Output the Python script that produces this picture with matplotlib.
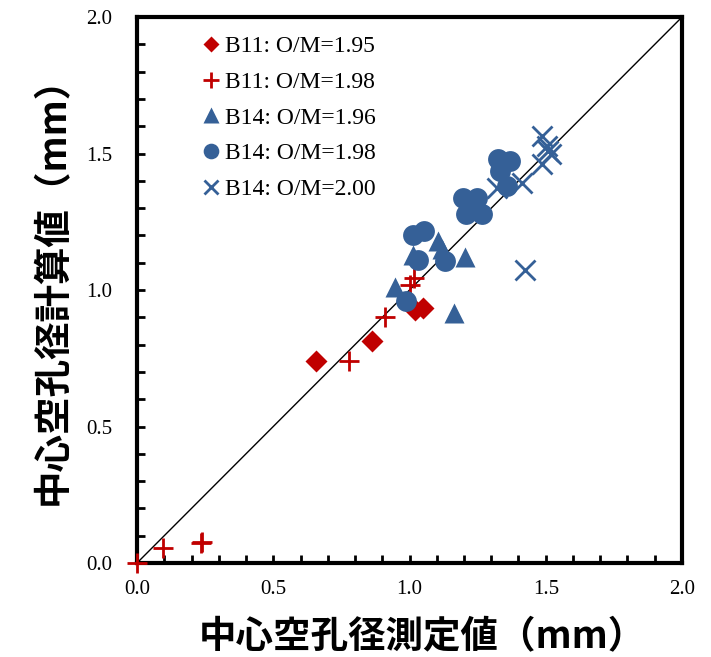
import numpy as np
import matplotlib.pyplot as plt

# measured vs calculated central hole diameter (mm)
b11_195_x = [0.657, 0.862, 1.020, 1.050]
b11_195_y = [0.741, 0.815, 0.928, 0.935]

b11_198_x = [0.0, 0.097, 0.234, 0.240, 0.778, 0.910, 1.000, 1.015]
b11_198_y = [0.0, 0.054, 0.073, 0.076, 0.741, 0.900, 1.020, 1.045]

b14_196_x = [0.947, 1.013, 1.105, 1.120, 1.204, 1.163]
b14_196_y = [1.010, 1.130, 1.180, 1.150, 1.120, 0.917]

b14_198_x = [0.987, 1.013, 1.053, 1.030, 1.130, 1.198, 1.247, 1.208, 1.265,
             1.326, 1.369, 1.332, 1.357]
b14_198_y = [0.958, 1.200, 1.218, 1.110, 1.105, 1.338, 1.338, 1.277, 1.277,
             1.479, 1.473, 1.436, 1.381]

b14_200_x = [1.485, 1.503, 1.510, 1.520, 1.485, 1.412, 1.320, 1.424]
b14_200_y = [1.564, 1.528, 1.510, 1.497, 1.460, 1.393, 1.375, 1.075]

red = '#C00000'
blue = '#356097'

plt.rcParams['font.family'] = ['Liberation Serif', 'DejaVu Serif']

fig = plt.figure(figsize=(7.11, 6.57), dpi=100)
ax = fig.add_axes([0.1927, 0.1431, 0.7665, 0.8309])

ax.plot([0, 2], [0, 2], color='black', lw=1, zorder=1)

ax.plot(b11_195_x, b11_195_y, 'D', ms=11, color=red, mec='none', label='B11: O/M=1.95', zorder=3)
ax.plot(b11_198_x, b11_198_y, '+', ms=15, mew=2, color=red, label='B11: O/M=1.98', zorder=3,
        clip_on=False)
ax.plot(b14_196_x, b14_196_y, '^', ms=15, color=blue, mec='none', label='B14: O/M=1.96', zorder=3)
ax.plot(b14_198_x, b14_198_y, 'o', ms=15, color=blue, mec='none', label='B14: O/M=1.98', zorder=3)
ax.plot(b14_200_x, b14_200_y, 'x', ms=14, mew=2, color=blue, label='B14: O/M=2.00', zorder=3)

ax.set_xlim(0, 2)
ax.set_ylim(0, 2)
ax.set_xticks(np.arange(0, 2.01, 0.5))
ax.set_yticks(np.arange(0, 2.01, 0.5))
ax.set_xticks(np.arange(0, 2.01, 0.1), minor=True)
ax.set_yticks(np.arange(0, 2.01, 0.1), minor=True)
ax.xaxis.set_major_formatter(plt.FormatStrFormatter('%.1f'))
ax.yaxis.set_major_formatter(plt.FormatStrFormatter('%.1f'))
ax.tick_params(which='both', direction='in', width=2, length=6, labelsize=15)
ax.tick_params(axis='x', pad=12)
ax.tick_params(axis='y', pad=18)
for s in ax.spines.values():
    s.set_linewidth(3)

lab_font = ['Noto Sans CJK JP', 'DejaVu Sans']
ax.set_xlabel('中心空孔径測定値（mm）', family=lab_font, fontsize=27, fontweight='bold')
ax.set_ylabel('中心空孔径計算値（mm）', family=lab_font, fontsize=27, fontweight='bold')
ax.xaxis.set_label_coords(0.523, -0.1)
ax.yaxis.set_label_coords(-0.12, 0.515)

leg = ax.legend(loc='upper left', bbox_to_anchor=(0.08, 1.005), frameon=False, fontsize=17,
                handlelength=0.8, handletextpad=0.2, labelspacing=0.6, markerscale=0.75)

fig.savefig('out.png', dpi=100)
